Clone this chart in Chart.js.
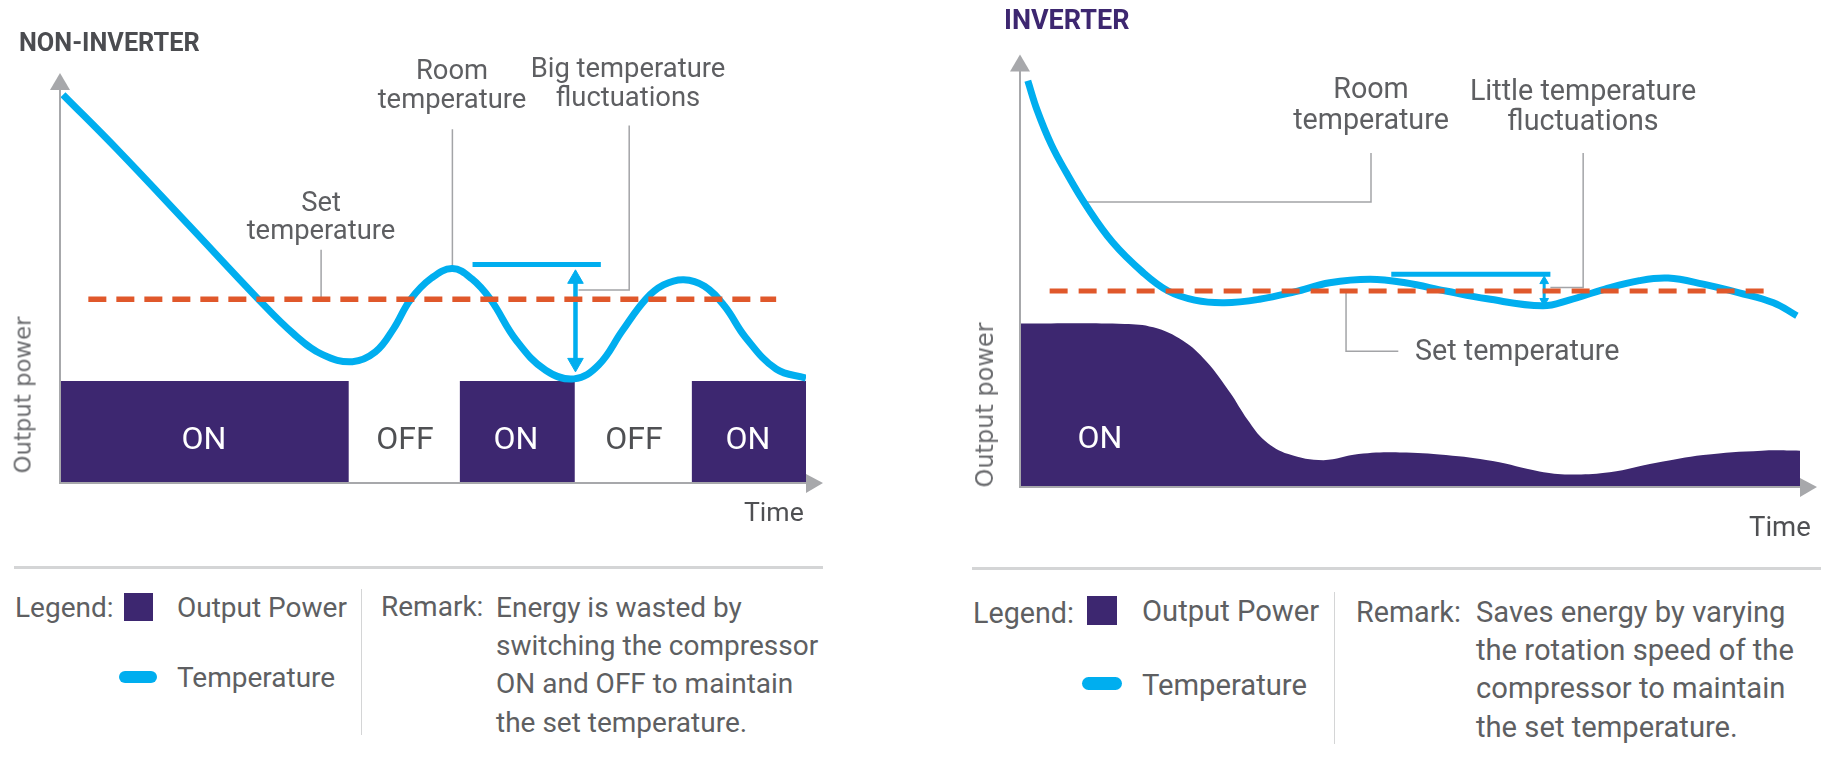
<!DOCTYPE html>
<html>
<head>
<meta charset="utf-8">
<title>Non-inverter vs inverter</title>
<script src="https://cdn.jsdelivr.net/npm/chart.js@4"></script>
<style>
  html, body { margin: 0; padding: 0; background: #fff; width: 1837px; height: 761px; overflow: hidden; }
  body { position: relative; font-family: Roboto, sans-serif; color: #5e5f62; }
  canvas { position: absolute; top: 0; }
  #leftChart { left: 0; }
  #rightChart { left: 920px; }
  .t { position: absolute; white-space: nowrap; line-height: 1; transform: translateY(-50%); font-size: 27.4px; }
  .c { transform: translate(-50%, -50%); }
  .r { font-size: 28.7px; }
  .l { font-size: 28px; }
  .title { font-weight: 700; }
  .on { color: #fff; font-size: 32px; }
  .off { color: #4f5053; font-size: 32px; }
  .axis { font-family: "DejaVu Sans", sans-serif; transform: translate(-50%, -50%) rotate(-90deg); color: #6b6c6f; }
  .rule { position: absolute; background: #d4d5d6; }
  .swatch { position: absolute; background: #3d2770; }
  .pill { position: absolute; background: #00aeef; border-radius: 7px; }
</style>
</head>
<body>
<canvas id="leftChart" width="920" height="540"></canvas>
<canvas id="rightChart" width="917" height="540"></canvas>

<!-- left panel text -->
<div class="t title" style="left:19px;top:43px;font-size:25.3px;color:#4b4c50">NON-INVERTER</div>
<div class="t c" style="left:452px;top:71px">Room</div>
<div class="t c" style="left:452px;top:100px">temperature</div>
<div class="t c" style="left:628px;top:69px">Big temperature</div>
<div class="t c" style="left:628px;top:98px">fluctuations</div>
<div class="t c" style="left:321px;top:203px">Set</div>
<div class="t c" style="left:321px;top:231px">temperature</div>
<div class="t c on" style="left:204px;top:438px">ON</div>
<div class="t c off" style="left:405px;top:438px">OFF</div>
<div class="t c on" style="left:516px;top:438px">ON</div>
<div class="t c off" style="left:634px;top:438px">OFF</div>
<div class="t c on" style="left:748px;top:438px">ON</div>
<div class="t" style="left:744px;top:512px;color:#4f5053;font-size:26.6px">Time</div>
<div class="t axis" style="left:23px;top:395px;font-size:22.8px">Output power</div>

<div class="rule" style="left:14px;top:566px;width:809px;height:3px"></div>
<div class="t l" style="left:15px;top:608px">Legend:</div>
<div class="swatch" style="left:124px;top:593px;width:29px;height:28px"></div>
<div class="t l" style="left:177px;top:608px">Output Power</div>
<div class="pill" style="left:119px;top:671px;width:38px;height:12px"></div>
<div class="t l" style="left:177px;top:678px">Temperature</div>
<div class="rule" style="left:361px;top:589px;width:1px;height:146px"></div>
<div class="t l" style="left:381px;top:607px">Remark:</div>
<div class="t l" style="left:496px;top:608px">Energy is wasted by</div>
<div class="t l" style="left:496px;top:646px">switching the compressor</div>
<div class="t l" style="left:496px;top:684px">ON and OFF to maintain</div>
<div class="t l" style="left:496px;top:723px">the set temperature.</div>

<!-- right panel text -->
<div class="t title" style="left:1004px;top:20px;font-size:27px;color:#3d2770">INVERTER</div>
<div class="t c r" style="left:1371px;top:88px">Room</div>
<div class="t c r" style="left:1371px;top:119px">temperature</div>
<div class="t c r" style="left:1583px;top:90px">Little temperature</div>
<div class="t c r" style="left:1583px;top:120px">fluctuations</div>
<div class="t r" style="left:1415px;top:350px">Set temperature</div>
<div class="t c on" style="left:1100px;top:437px">ON</div>
<div class="t r" style="left:1749px;top:527px;color:#4f5053;font-size:27.5px">Time</div>
<div class="t axis" style="left:985px;top:405px;font-size:24px">Output power</div>

<div class="rule" style="left:972px;top:567px;width:849px;height:3px"></div>
<div class="t r" style="left:973px;top:613px">Legend:</div>
<div class="swatch" style="left:1087px;top:596px;width:30px;height:29px"></div>
<div class="t r" style="left:1142px;top:612px;font-size:29.2px">Output Power</div>
<div class="pill" style="left:1082px;top:677px;width:40px;height:13px"></div>
<div class="t r" style="left:1142px;top:686px;font-size:29.2px">Temperature</div>
<div class="rule" style="left:1334px;top:592px;width:1px;height:152px"></div>
<div class="t r" style="left:1356px;top:612px">Remark:</div>
<div class="t r" style="left:1476px;top:613px;font-size:29.2px">Saves energy by varying</div>
<div class="t r" style="left:1476px;top:651px;font-size:29.2px">the rotation speed of the</div>
<div class="t r" style="left:1476px;top:689px;font-size:29.2px">compressor to maintain</div>
<div class="t r" style="left:1476px;top:728px;font-size:29.2px">the set temperature.</div>

<script>
// Values. Time and level both run 0-100 along each axis.
const nonInverterTime = [0.4, 7.7, 17.2, 26.6, 31.3, 35.2, 39.2, 42.3, 44.7, 47.0, 49.8, 52.6, 55.2, 57.7, 61.2, 65.1, 68.9, 72.2, 75.4, 78.5, 80.9, 83.6, 86.4, 89.1, 91.9, 96, 100];
const nonInverterTemp = [94.7, 81.3, 63.0, 44.8, 36.4, 31.3, 29.6, 32, 37.6, 44.8, 50, 52.3, 49.8, 44.8, 34.7, 27.5, 25.4, 28.8, 37.2, 44.8, 48.3, 49.6, 48, 43.1, 35.5, 27.8, 25.6];
const nonInverterPowerTime = [0, 38.7, 53.6, 69, 84.7, 100];
const nonInverterPower = [24.9, 0, 24.9, 0, 24.9, 24.9];
const nonInverterSetTime = [3.8, 96];
const nonInverterSetTemp = [44.8, 44.8];

const inverterTime = [1.0, 2.2, 4.0, 5.9, 8.5, 11.9, 15.7, 19.0, 22.4, 26.2, 30.7, 35.2, 39.7, 44.9, 49.4, 54.6, 59.9, 67.0, 70.4, 74.9, 79.4, 83.1, 87.6, 92.2, 96.6, 99.6];
const inverterTemp = [93.9, 87.1, 79.2, 72.8, 65.0, 56.5, 49.7, 45.3, 43.2, 42.6, 43.4, 45.1, 47.2, 48.0, 47.2, 45.3, 43.5, 41.9, 43.2, 45.7, 47.7, 48.3, 46.9, 44.9, 42.6, 39.6];
const inverterPowerTime = [0, 13.4, 17.1, 20.9, 23.9, 26.9, 29.2, 31.4, 34.4, 38.9, 43.4, 48.7, 54.6, 60.6, 66.6, 70.4, 75.6, 81.6, 87.6, 95.1, 100];
const inverterPower = [37.8, 37.7, 36.9, 33.8, 29, 21.9, 15.5, 10.7, 7.6, 6.2, 7.6, 8, 7.4, 6, 3.6, 2.9, 3.4, 5.6, 7.4, 8.4, 8.4];
const inverterSetTime = [3.8, 95.4];
const inverterSetTemp = [45.3, 45.3];

const CYAN = '#00aeef';
const ORANGE = '#e0582b';
const PURPLE = '#3d2770';
const LEADER = '#a3a4a7';
const AXIS = '#a7a8ab';

function toPoints(xs, ys) {
    return xs.map((x, i) => ({ x: x, y: ys[i] }));
}

// thin grey callout line
function leader(xs, ys) {
    return {
        data: toPoints(xs, ys),
        borderColor: LEADER,
        borderWidth: 1.5,
        pointRadius: 0,
        tension: 0,
        order: 4
    };
}

// draws the two grey axes and their arrow heads on top of everything
const axisArrows = {
    id: 'axisArrows',
    afterDraw(chart) {
        const ctx = chart.ctx;
        const xs = chart.scales.x, ys = chart.scales.y;
        const x0 = xs.getPixelForValue(0), x1 = xs.getPixelForValue(100);
        const y0 = ys.getPixelForValue(0), y1 = ys.getPixelForValue(100);
        ctx.save();
        ctx.strokeStyle = AXIS;
        ctx.fillStyle = AXIS;
        ctx.lineWidth = 2;
        ctx.beginPath();
        ctx.moveTo(x0, y1 + 10);
        ctx.lineTo(x0, y0);
        ctx.lineTo(x1, y0);
        ctx.stroke();
        ctx.beginPath();
        ctx.moveTo(x0, y1);
        ctx.lineTo(x0 - 10, y1 + 17);
        ctx.lineTo(x0 + 10, y1 + 17);
        ctx.closePath();
        ctx.fill();
        ctx.beginPath();
        ctx.moveTo(x1 + 17, y0);
        ctx.lineTo(x1, y0 - 9);
        ctx.lineTo(x1, y0 + 10);
        ctx.closePath();
        ctx.fill();
        ctx.restore();
    }
};

function buildOptions(padding) {
    return {
        responsive: false,
        animation: false,
        layout: { padding: padding },
        plugins: { legend: { display: false }, tooltip: { enabled: false } },
        scales: {
            x: { type: 'linear', display: false, min: 0, max: 100 },
            y: { display: false, min: 0, max: 100 }
        }
    };
}

new Chart(document.getElementById('leftChart'), {
    type: 'line',
    data: {
        datasets: [
            { data: toPoints(nonInverterSetTime, nonInverterSetTemp), borderColor: ORANGE, borderWidth: 5.5, borderDash: [18, 10], pointRadius: 0, order: 0 },
            { data: toPoints(nonInverterTime, nonInverterTemp), borderColor: CYAN, borderWidth: 7, tension: 0.4, pointRadius: 0, order: 1 },
            { data: toPoints([55.3, 72.5], [53.3, 53.3]), borderColor: CYAN, borderWidth: 5, pointRadius: 0, order: 2 },
            { data: toPoints([69.1, 69.1], [50, 29]), borderColor: CYAN, borderWidth: 4.5, pointRadius: 0, order: 2 },
            { data: toPoints([69.1, 69.1], [49.8, 29.3]), showLine: false, pointStyle: 'triangle', pointRadius: 9, pointRotation: [0, 180], backgroundColor: CYAN, borderColor: CYAN, order: 2 },
            leader([35, 35], [56.9, 45.2]),
            leader([52.6, 52.6], [86.3, 52.7]),
            leader([76.3, 76.3, 69.5], [87.2, 47.1, 47.1]),
            { data: toPoints(nonInverterPowerTime, nonInverterPower), stepped: 'before', fill: 'origin', backgroundColor: PURPLE, borderWidth: 0, pointRadius: 0, order: 5 }
        ]
    },
    options: buildOptions({ left: 60, right: 114, top: 73, bottom: 57 }),
    plugins: [axisArrows]
});

new Chart(document.getElementById('rightChart'), {
    type: 'line',
    data: {
        datasets: [
            { data: toPoints(inverterSetTime, inverterSetTemp), borderColor: ORANGE, borderWidth: 5, borderDash: [18, 11], pointRadius: 0, order: 0 },
            { data: toPoints(inverterTime, inverterTemp), borderColor: CYAN, borderWidth: 7, tension: 0.4, pointRadius: 0, order: 1 },
            { data: toPoints([47.6, 68], [49.2, 49.2]), borderColor: CYAN, borderWidth: 5, pointRadius: 0, order: 2 },
            { data: toPoints([67.2, 67.2], [48, 42.6]), borderColor: CYAN, borderWidth: 3, pointRadius: 0, order: 2 },
            { data: toPoints([67.2, 67.2], [47.6, 43]), showLine: false, pointStyle: 'triangle', pointRadius: 5, pointRotation: [0, 180], backgroundColor: CYAN, borderColor: CYAN, order: 2 },
            leader([8.5, 45, 45], [65.9, 65.9, 77.2]),
            leader([72.2, 72.2, 68], [77.2, 46.1, 46.1]),
            leader([41.8, 41.8, 48.5], [44.9, 31.4, 31.4]),
            { data: toPoints(inverterPowerTime, inverterPower), tension: 0.4, fill: 'origin', backgroundColor: PURPLE, borderWidth: 0, pointRadius: 0, order: 5 }
        ]
    },
    options: buildOptions({ left: 100, right: 37, top: 54.4, bottom: 53 }),
    plugins: [axisArrows]
});
</script>
</body>
</html>
